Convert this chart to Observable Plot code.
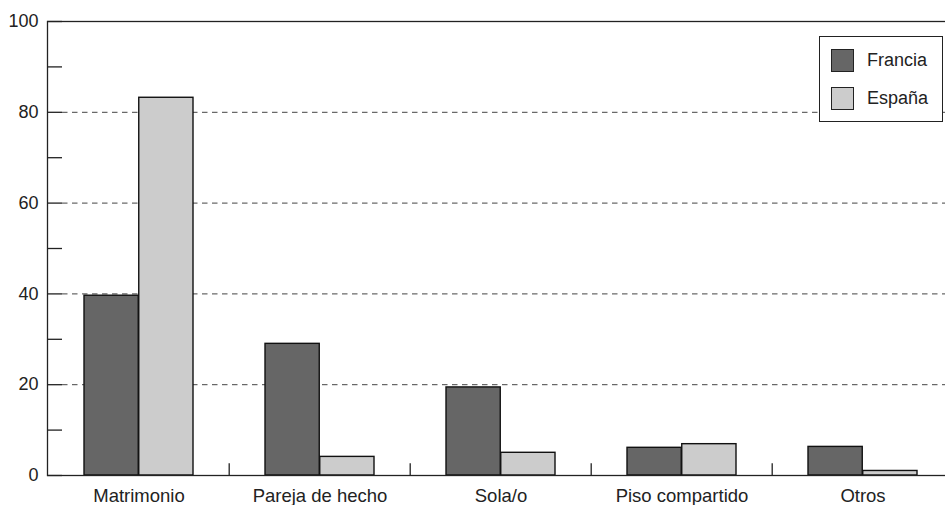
<!DOCTYPE html>
<html>
<head>
<meta charset="utf-8">
<script src="https://cdn.jsdelivr.net/npm/d3@7"></script>
<script src="https://cdn.jsdelivr.net/npm/@observablehq/plot@0.6"></script>
<style>
  html, body { margin: 0; padding: 0; background: #fff; overflow: hidden; }
  #wrap { position: relative; width: 945px; height: 505px; overflow: hidden; }
  #chart svg { max-width: none !important; }
  #legend {
    position: absolute; left: 819px; top: 36px; width: 122px; height: 84px;
    border: 1.3px solid #222; background: #fff;
    font-family: "Liberation Sans", Arial, sans-serif; font-size: 18px; color: #222;
  }
  .item { position: absolute; left: 11px; height: 23px; display: flex; align-items: center; }
  .sw { width: 21px; height: 21px; border: 1.3px solid #222; margin-right: 13px; }
</style>
</head>
<body>
<div id="wrap">
  <div id="chart"></div>
  <div id="legend">
    <div class="item" style="top:12px"><div class="sw" style="background:#666666"></div><span>Francia</span></div>
    <div class="item" style="top:50px"><div class="sw" style="background:#cccccc"></div><span>España</span></div>
  </div>
</div>
<script>
const categories = ["Matrimonio", "Pareja de hecho", "Sola/o", "Piso compartido", "Otros"];
const francia = [39.6, 29.0, 19.4, 6.1, 6.3];
const espana = [83.2, 4.1, 5.0, 6.9, 1.0];
const yTicks = [0, 10, 20, 30, 40, 50, 60, 70, 80, 90, 100];
const yLabels = [0, 20, 40, 60, 80, 100];
const gridValues = [20, 40, 60, 80];

const rows = categories.map((c, i) => ({cat: c, francia: francia[i], espana: espana[i]}));

const marginLeft = 47, marginRight = 5, width = 960;
const n = categories.length;
const padInner = 0.397;
const innerW = width - marginLeft - marginRight;
const step = innerW / n;
const bw = step * (1 - padInner);
const font = "Liberation Sans, Arial, Helvetica, sans-serif";

const chart = Plot.plot({
  width,
  height: 505,
  marginLeft,
  marginRight,
  marginTop: 21,
  marginBottom: 30,
  style: {fontFamily: font, fontSize: "18px", color: "#222", background: "#fff", maxWidth: "none"},
  x: {domain: categories, type: "band", paddingInner: padInner, paddingOuter: padInner / 2, axis: null, label: null},
  y: {domain: [0, 100], axis: null, label: null},
  marks: [
    Plot.ruleY(gridValues, {stroke: "#444", strokeWidth: 1, strokeDasharray: "5.5,4.5", insetLeft: 15}),
    Plot.barY(rows, {x: "cat", y: "francia", fill: "#666666", stroke: "#111", strokeWidth: 1.4, insetRight: bw / 2}),
    Plot.barY(rows, {x: "cat", y: "espana", fill: "#cccccc", stroke: "#111", strokeWidth: 1.4, insetLeft: bw / 2}),
    Plot.frame({stroke: "#222", strokeWidth: 1.3}),
    Plot.tickY(yTicks, {y: d => d, stroke: "#222", strokeWidth: 1.3, insetRight: innerW - 15}),
    Plot.ruleX(categories.slice(1), {x: d => d, dx: -step / 2, y1: 0, y2: 2.6, stroke: "#222", strokeWidth: 1.3}),
    Plot.axisY({ticks: yLabels, anchor: "left", tickSize: 0, tickPadding: 9, fontSize: 18, fill: "#222", label: null}),
    Plot.axisX({anchor: "bottom", tickSize: 0, tickPadding: 13, fontSize: 18.5, fill: "#222", label: null})
  ]
});
document.getElementById("chart").appendChild(chart);
</script>
</body>
</html>
